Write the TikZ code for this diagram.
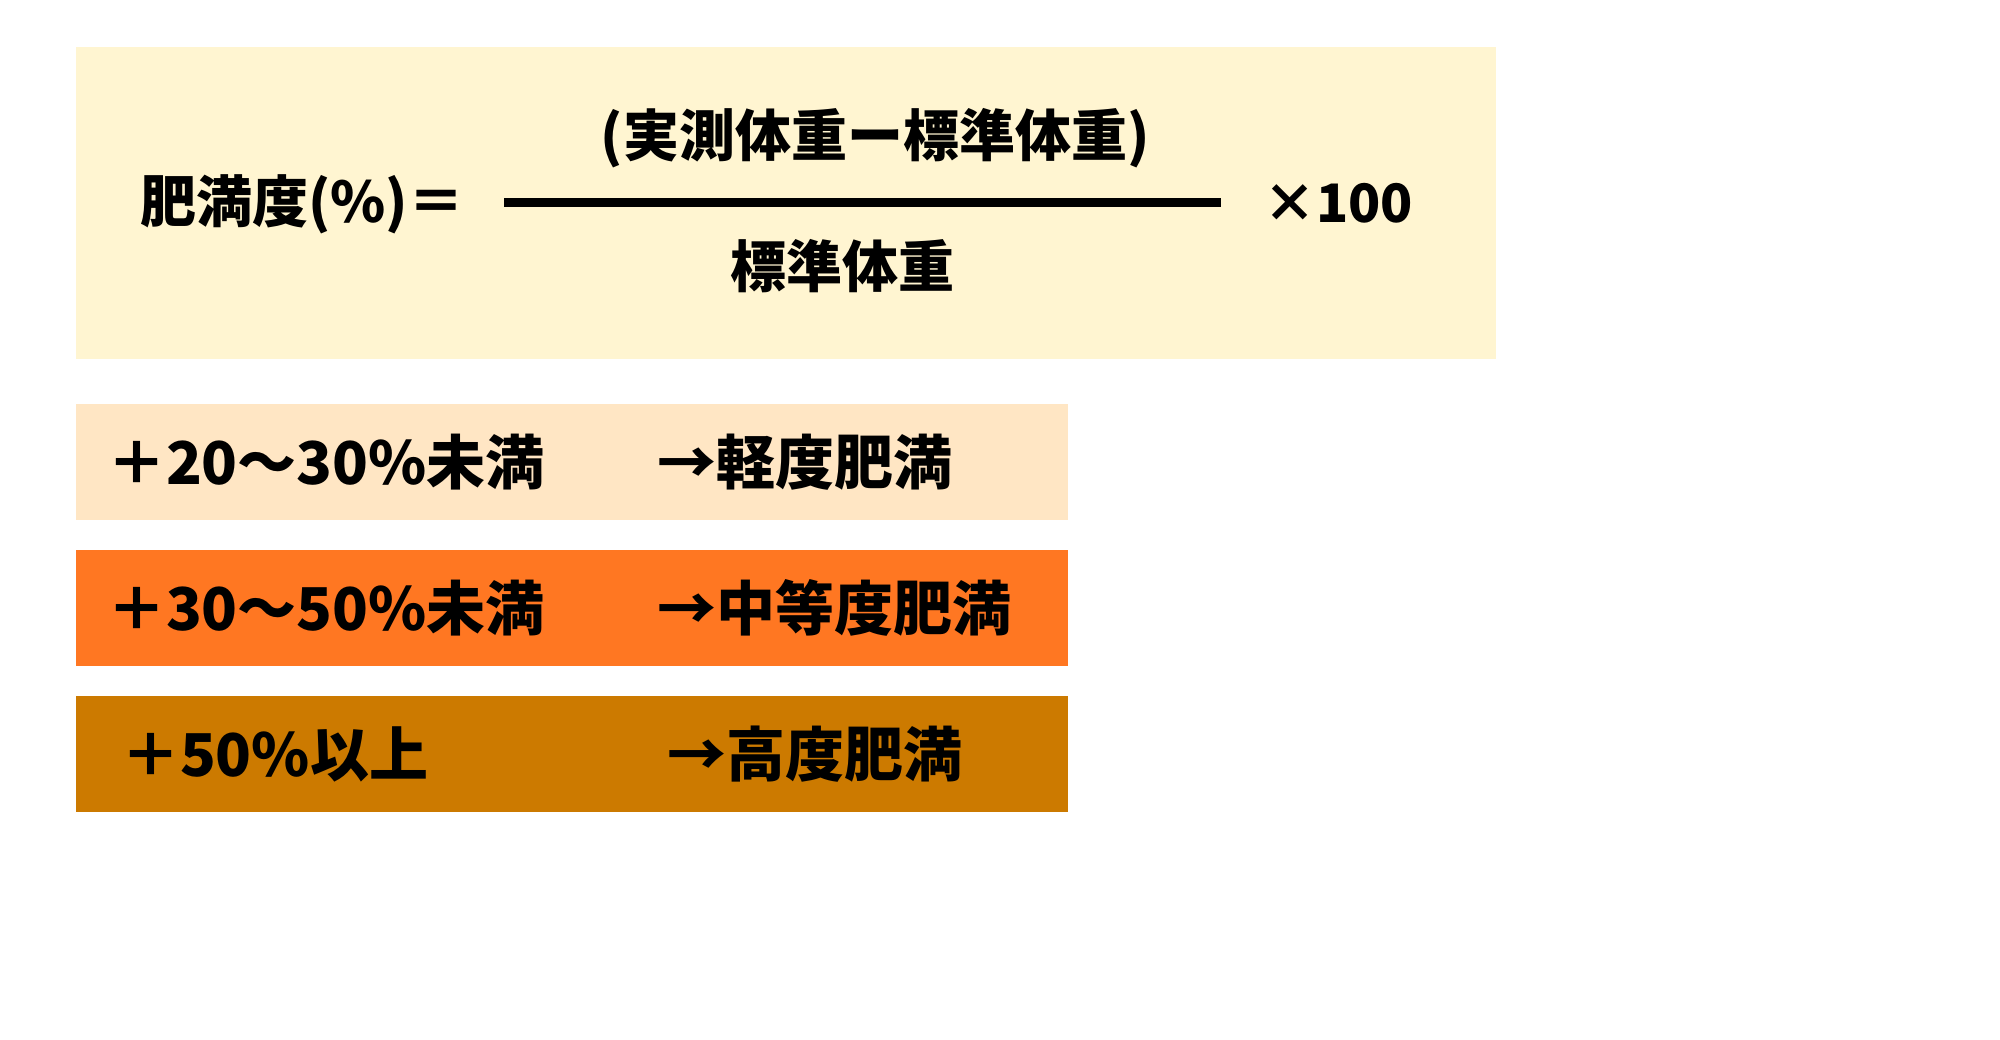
\documentclass[tikz,border=0pt]{standalone}
\usepackage{fontspec}
\setmainfont{Noto Sans CJK JP}
\definecolor{formbg}{HTML}{FFF5D1}
\definecolor{lightbg}{HTML}{FFE6C4}
\definecolor{midbg}{HTML}{FF7722}
\definecolor{highbg}{HTML}{CC7A00}
\tikzset{
  txt/.style={inner sep=0pt, outer sep=0pt, font=\fontsize{56}{60}\selectfont\bfseries, text=black},
  bandtxt/.style={inner sep=0pt, outer sep=0pt, font=\fontsize{59}{62}\selectfont\bfseries, text=black, anchor=west},
  band/.style={draw=none, inner sep=0pt, outer sep=0pt}
}
\begin{document}
\begin{tikzpicture}[x=1pt,y=-1pt]
\useasboundingbox (0,0) rectangle (2000,1040);
\fill[white] (0,0) rectangle (2000,1040);
% formula box
\fill[formbg] (76,47) rectangle (1496,359);
\node[txt, anchor=base west] (lhs) at (140,223) {肥満度(\%)＝};
\node[txt, anchor=base] (num) at (875,157) {(実測体重ー標準体重)};
\node[txt, anchor=base] (den) at (842,288) {標準体重};
\coordinate (fl) at (504,203);
\coordinate (fr) at (1221,203);
\draw[line width=9pt] (fl) -- (fr);
\node[txt, font=\fontsize{53}{58}\selectfont\bfseries, anchor=base west] (times) at (1263,223) {×100};
% bands
\fill[lightbg] (76,404) rectangle (1068,520);
\fill[midbg] (76,550) rectangle (1068,666);
\fill[highbg] (76,696) rectangle (1068,812);
\node[bandtxt] (r1) at (107,462) {＋20〜30\%未満};
\node[bandtxt] (c1) at (657,462) {→軽度肥満};
\node[bandtxt] (r2) at (107,608) {＋30〜50\%未満};
\node[bandtxt] (c2) at (657,608) {→中等度肥満};
\node[bandtxt] (r3) at (121,754) {＋50\%以上};
\node[bandtxt] (c3) at (667,754) {→高度肥満};
\end{tikzpicture}
\end{document}
